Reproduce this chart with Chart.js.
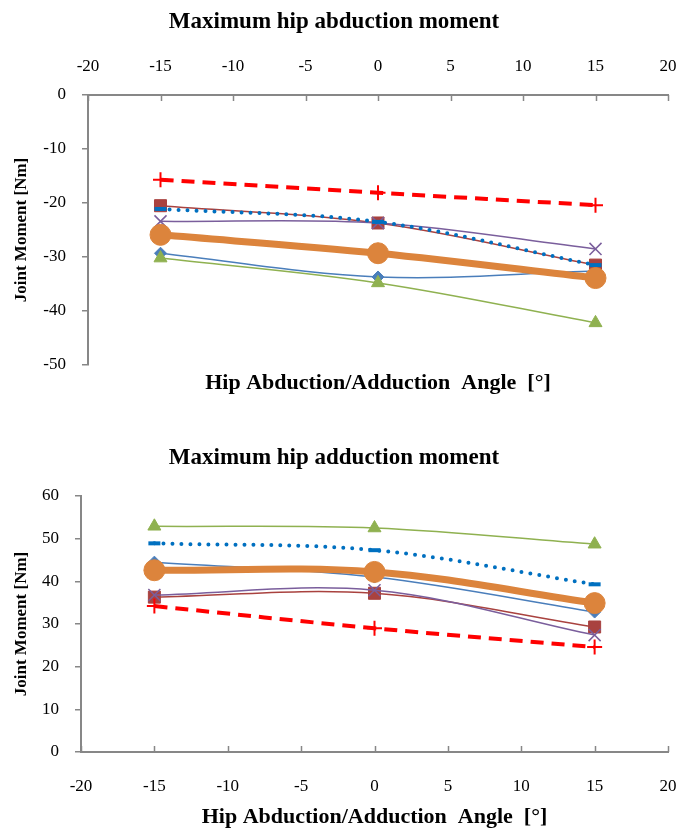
<!DOCTYPE html>
<html>
<head>
<meta charset="utf-8">
<title>Maximum hip moments</title>
<script src="https://cdn.jsdelivr.net/npm/chart.js@4.4.0/dist/chart.umd.min.js"></script>
<style>
  body { margin: 0; background: #fff; }
  .box { position: relative; width: 682px; }
  #top { height: 406px; }
  #bottom { height: 426px; }
</style>
</head>
<body>
<div class="box" id="top"><canvas id="abdChart"></canvas></div>
<div class="box" id="bottom"><canvas id="addChart"></canvas></div>
<script>
// x positions (hip angle, deg)
const angles = [-15, 0, 15];
const seriesNames = ['Series 1', 'Series 2', 'Series 3', 'Series 4', 'Series 5', 'Mean', 'Reference'];

// Maximum hip abduction moment [Nm]
const abdSeries1 = [-29.3, -33.7, -32.6];
const abdSeries2 = [-20.5, -23.7, -31.5];
const abdSeries3 = [-30.2, -34.8, -42.2];
const abdSeries4 = [-23.4, -23.7, -28.5];
const abdSeries5 = [-21.1, -23.5, -31.5];
const abdMean = [-25.9, -29.3, -33.9];
const abdRef = [-15.7, -18.1, -20.4];

// Maximum hip adduction moment [Nm]
const addSeries1 = [44.5, 41.0, 32.8];
const addSeries2 = [36.3, 37.2, 29.3];
const addSeries3 = [52.9, 52.5, 48.7];
const addSeries4 = [36.8, 37.9, 27.4];
const addSeries5 = [48.9, 47.3, 39.3];
const addMean = [42.6, 42.2, 34.9];
const addRef = [34.2, 29.0, 24.6];

const axisGray = '#878787';
const serif = "'Liberation Serif', 'DejaVu Serif', serif";
const xTitle = 'Hip Abduction/Adduction  Angle  [°]';

// look of each series, in the same order as seriesNames
const styles = [
  { color: '#4A7EBB', width: 1.5, point: 'rectRot', radius: 6 },
  { color: '#A9423F', width: 1.5, point: 'rect', radius: 8.5 },
  { color: '#8FB150', width: 1.5, point: 'triangle', radius: 7.5 },
  { color: '#7A5E9C', width: 1.5, point: 'crossRot', radius: 8.5, pw: 1.5 },
  { color: '#0070C0', width: 4, point: 'line', radius: 6, dash: [0, 9], pw: 4 },
  { color: '#DC843C', width: 7, point: 'circle', radius: 10.5 },
  { color: '#FF0000', width: 4, point: 'cross', radius: 7.5, dash: [13, 8], pw: 2 }
];
// draw order: reference on top, then mean, dotted ...
const drawOrder = [6, 5, 4, 3, 2, 1, 0];

function makeDatasets(values) {
  return values.map((vals, i) => {
    const s = styles[i];
    return {
      label: seriesNames[i],
      data: angles.map((a, j) => ({ x: a, y: vals[j] })),
      borderColor: s.color,
      backgroundColor: s.color,
      borderWidth: s.width,
      borderDash: s.dash || [],
      borderCapStyle: s.dash && s.dash[0] === 0 ? 'round' : 'butt',
      tension: 0.35,
      pointStyle: s.point,
      pointRadius: s.radius,
      pointBorderWidth: s.pw || 1,
      pointBackgroundColor: s.color,
      pointBorderColor: s.color,
      order: drawOrder[i]
    };
  });
}

// tick marks that point into the plot on the x axis
const innerTicks = {
  id: 'innerTicks',
  beforeDatasetsDraw(chart, args, opts) {
    const xs = chart.scales.x;
    const area = chart.chartArea;
    const ctx = chart.ctx;
    ctx.save();
    ctx.strokeStyle = axisGray;
    ctx.lineWidth = 1.5;
    xs.ticks.forEach(t => {
      const px = Math.round(xs.getPixelForValue(t.value)) + 0.5;
      ctx.beginPath();
      if (opts.atTop) {
        ctx.moveTo(px, area.top);
        ctx.lineTo(px, area.top + 6);
      } else {
        ctx.moveTo(px, area.bottom);
        ctx.lineTo(px, area.bottom - 6);
      }
      ctx.stroke();
    });
    ctx.restore();
  }
};

function buildOptions(cfg) {
  const scales = {
    x: {
      type: 'linear',
      position: cfg.xTop ? 'top' : 'bottom',
      min: -20, max: 20,
      ticks: {
        stepSize: 5,
        color: '#000',
        font: { family: serif, size: 17 },
        padding: 0,
        maxRotation: 0
      },
      // invisible tick length just to push the labels away from the axis
      grid: {
        display: true, drawOnChartArea: false, drawTicks: true,
        tickLength: cfg.xTop ? 18 : 24.5, tickColor: 'rgba(0,0,0,0)'
      },
      border: { display: true, color: axisGray, width: 2 },
      title: cfg.xTop ? { display: false } : {
        display: true,
        text: xTitle,
        color: '#000',
        font: { family: serif, size: 22, weight: 'bold' },
        padding: { top: 0, bottom: 1 }
      },
      afterFit(scale) { scale.height = cfg.xHeight; }
    },
    y: {
      min: cfg.yMin, max: cfg.yMax,
      ticks: {
        stepSize: 10,
        color: '#000',
        font: { family: serif, size: 17 },
        padding: 16
      },
      grid: { display: true, drawOnChartArea: false, drawTicks: true, tickLength: 6, color: axisGray, lineWidth: 1.5 },
      border: { display: true, color: axisGray, width: 2 },
      title: {
        display: true,
        text: 'Joint Moment [Nm]',
        color: '#000',
        font: { family: serif, size: 17, weight: 'bold' },
        padding: { top: 11.8, bottom: 0 }
      },
      afterFit(scale) { scale.width = cfg.yWidth; }
    }
  };
  if (cfg.xTop) {
    // empty bottom axis that only carries the x title under the plot
    scales.xTitleAxis = {
      type: 'linear',
      position: 'bottom',
      min: -20, max: 20,
      ticks: { display: false },
      grid: { display: false },
      border: { display: false },
      title: {
        display: true,
        text: xTitle,
        color: '#000',
        font: { family: serif, size: 22, weight: 'bold' },
        padding: { top: 0, bottom: 9.8 }
      },
      afterFit(scale) { scale.height = 41; }
    };
  }
  return {
    responsive: true,
    maintainAspectRatio: false,
    animation: false,
    layout: { padding: { left: 0, right: 14, top: 0, bottom: 0 } },
    plugins: {
      legend: { display: false },
      tooltip: { enabled: false },
      innerTicks: { atTop: cfg.xTop },
      title: {
        display: true,
        text: cfg.title,
        color: '#000',
        font: { family: serif, size: 23, weight: 'bold' },
        padding: cfg.titlePad
      }
    },
    scales: scales
  };
}

new Chart(document.getElementById('abdChart'), {
  type: 'line',
  data: { datasets: makeDatasets([abdSeries1, abdSeries2, abdSeries3, abdSeries4, abdSeries5, abdMean, abdRef]) },
  options: buildOptions({
    title: 'Maximum hip abduction moment',
    titlePad: { top: 8.2, bottom: 4.2 },
    xTop: true, xHeight: 55,
    yMin: -50, yMax: 0, yWidth: 88
  }),
  plugins: [innerTicks]
});

new Chart(document.getElementById('addChart'), {
  type: 'line',
  data: { datasets: makeDatasets([addSeries1, addSeries2, addSeries3, addSeries4, addSeries5, addMean, addRef]) },
  options: buildOptions({
    title: 'Maximum hip adduction moment',
    titlePad: { top: 38.2, bottom: 24.2 },
    xTop: false, xHeight: 80,
    yMin: 0, yMax: 60, yWidth: 81
  }),
  plugins: [innerTicks]
});
</script>
</body>
</html>
